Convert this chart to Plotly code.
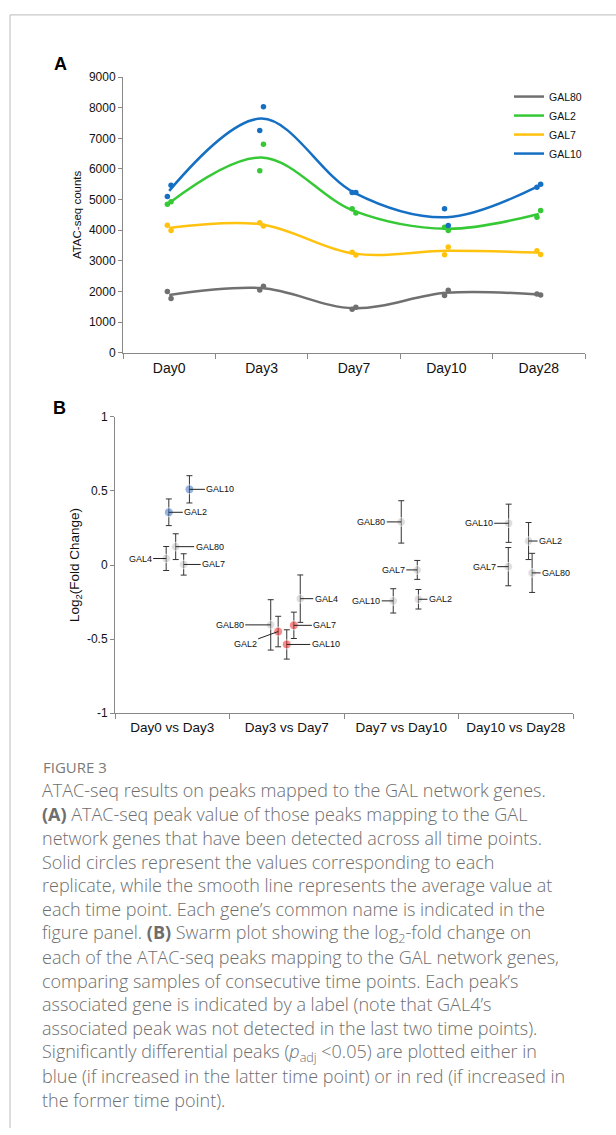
import plotly.graph_objects as go

W, H = 616, 1135

# ---------------- Panel A data ----------------
days = ["Day0", "Day3", "Day7", "Day10", "Day28"]
genes_a = ["GAL80", "GAL2", "GAL7", "GAL10"]
colors_a = {"GAL80": "#707070", "GAL2": "#36c936", "GAL7": "#ffc20e", "GAL10": "#1570c4"}

gal80_rep1 = [2000, 2050, 1420, 1870, 1920]
gal80_rep2 = [1770, 2170, 1480, 2040, 1880]
gal2_rep1 = [4850, 5940, 4700, 4100, 4420]
gal2_rep2 = [4930, 6810, 4560, 3990, 4640]
gal7_rep1 = [4160, 4240, 3280, 3200, 3330]
gal7_rep2 = [3990, 4140, 3190, 3450, 3210]
gal10_rep1 = [5100, 7260, 5230, 4700, 5400]
gal10_rep2 = [5470, 8030, 5230, 4150, 5500]

reps_a = {
    "GAL80": (gal80_rep1, gal80_rep2),
    "GAL2": (gal2_rep1, gal2_rep2),
    "GAL7": (gal7_rep1, gal7_rep2),
    "GAL10": (gal10_rep1, gal10_rep2),
}

# ---------------- Panel B data ----------------
comparisons = ["Day0 vs Day3", "Day3 vs Day7", "Day7 vs Day10", "Day10 vs Day28"]
b_comp = [0, 0, 0, 0, 0,
          1, 1, 1, 1, 1,
          2, 2, 2, 2,
          3, 3, 3, 3]
b_gene = ["GAL10", "GAL2", "GAL80", "GAL4", "GAL7",
          "GAL80", "GAL2", "GAL10", "GAL7", "GAL4",
          "GAL80", "GAL7", "GAL10", "GAL2",
          "GAL10", "GAL2", "GAL7", "GAL80"]
b_log2fc = [0.511, 0.356, 0.124, 0.044, 0.004,
            -0.404, -0.449, -0.536, -0.407, -0.227,
            0.291, -0.033, -0.242, -0.231,
            0.282, 0.162, -0.011, -0.053]
b_err = [0.092, 0.090, 0.087, 0.081, 0.072,
         0.170, 0.103, 0.099, 0.089, 0.160,
         0.143, 0.064, 0.082, 0.066,
         0.129, 0.125, 0.129, 0.132]
b_sig = ["up", "up", "ns", "ns", "ns",
         "ns", "down", "down", "down", "ns",
         "ns", "ns", "ns", "ns",
         "ns", "ns", "ns", "ns"]
# swarm layout (horizontal spread within a category) and label offsets in px
b_swarm = [0.15, -0.03, 0.03, -0.053, 0.10,
           -0.14, -0.075, 0.0, 0.062, 0.118,
           0.0, 0.14, -0.07, 0.15,
           -0.062, 0.112, -0.065, 0.143]
b_label_dx = [31, 27, 34, -26, 30,
              -41, -33, 39, 31, 26,
              -30, -24, -27, 22,
              -30, 22, -24, 24]
b_label_dy = [0, 0, 0, 0, 0,
              0, 12, 0, 0, 0,
              0, 0, 0, 0,
              0, 0, 0, 0]

sig_colors = {"up": "rgba(70,120,195,0.8)", "down": "rgba(240,50,50,0.8)", "ns": "rgba(190,190,190,0.7)"}

caption_lines = [
    "ATAC-seq results on peaks mapped to the GAL network genes.",
    "<b>(A)</b> ATAC-seq peak value of those peaks mapping to the GAL",
    "network genes that have been detected across all time points.",
    "Solid circles represent the values corresponding to each",
    "replicate, while the smooth line represents the average value at",
    "each time point. Each gene\u2019s common name is indicated in the",
    "figure panel. <b>(B)</b> Swarm plot showing the log<sub>2</sub>-fold change on",
    "each of the ATAC-seq peaks mapping to the GAL network genes,",
    "comparing samples of consecutive time points. Each peak\u2019s",
    "associated gene is indicated by a label (note that GAL4\u2019s",
    "associated peak was not detected in the last two time points).",
    "Significantly differential peaks (<i>p</i><sub>adj</sub> &lt;0.05) are plotted either in",
    "blue (if increased in the latter time point) or in red (if increased in",
    "the former time point).",
]

fig = go.Figure()

# Panel A: smooth mean lines
x_idx = list(range(len(days)))
for g in genes_a:
    r1, r2 = reps_a[g]
    mean = [(a + b) / 2 for a, b in zip(r1, r2)]
    fig.add_trace(go.Scatter(
        x=x_idx, y=mean, mode="lines", name=g,
        line=dict(color=colors_a[g], width=2.5, shape="spline", smoothing=1.0),
        xaxis="x", yaxis="y", hoverinfo="skip"))
# Panel A: replicate points
for g in genes_a:
    r1, r2 = reps_a[g]
    fig.add_trace(go.Scatter(
        x=[i - 0.02 for i in x_idx] + [i + 0.02 for i in x_idx], y=list(r1) + list(r2),
        mode="markers", marker=dict(color=colors_a[g], size=5.5),
        showlegend=False, xaxis="x", yaxis="y"))

# Panel B: swarm points with error bars
bx = [c + s for c, s in zip(b_comp, b_swarm)]
fig.add_trace(go.Scatter(
    x=bx, y=b_log2fc, mode="markers",
    marker=dict(color=[sig_colors[s] for s in b_sig], size=[9 if s != "ns" else 8.5 for s in b_sig]),
    error_y=dict(type="data", array=b_err, color="#333333", thickness=1, width=3),
    showlegend=False, xaxis="x2", yaxis="y2"))

annotations = []
for xv, yv, g, dx, dy in zip(bx, b_log2fc, b_gene, b_label_dx, b_label_dy):
    annotations.append(dict(
        x=xv, y=yv, xref="x2", yref="y2", text=g, showarrow=True,
        ax=dx, ay=dy, axref="pixel", ayref="pixel", arrowhead=0, arrowwidth=1,
        arrowcolor="#222222", standoff=0, borderpad=1,
        font=dict(family="Arial, Liberation Sans", size=9, color="#111111")))

# Panel letters
annotations.append(dict(x=60 / W, y=1 - 58 / H, xref="paper", yref="paper", text="<b>A</b>",
                        xanchor="center", yanchor="middle",
                        showarrow=False, font=dict(family="Arial, Liberation Sans", size=18, color="#000")))
annotations.append(dict(x=59 / W, y=1 - 406 / H, xref="paper", yref="paper", text="<b>B</b>",
                        xanchor="center", yanchor="middle",
                        showarrow=False, font=dict(family="Arial, Liberation Sans", size=18, color="#000")))

# Caption
annotations.append(dict(x=41 / W, y=1 - 769 / H, xref="paper", yref="paper", xanchor="left", yanchor="middle",
                        text="FIGURE 3", showarrow=False,
                        font=dict(family="Open Sans", size=15, color="#7a7a7a")))
for i, line in enumerate(caption_lines):
    annotations.append(dict(x=41 / W, y=1 - (793 + 24.1 * i) / H, xref="paper", yref="paper",
                            xanchor="left", yanchor="middle", text=line, showarrow=False, borderpad=0,
                            font=dict(family="Open Sans", size=18, color="#6e6e6e", weight=300)))

fig.update_layout(
    width=W, height=H, margin=dict(l=0, r=0, t=0, b=0),
    paper_bgcolor="white", plot_bgcolor="white",
    showlegend=True,
    legend=dict(x=509 / W, y=1 - 76 / H, xanchor="left", yanchor="top",
                font=dict(family="Arial, Liberation Sans", size=10.5, color="#111"),
                bgcolor="rgba(0,0,0,0)", tracegroupgap=0, itemwidth=30),
    xaxis=dict(domain=[123 / W, 585 / W], range=[-0.5, 4.5], anchor="y",
               tickmode="array", tickvals=x_idx, ticktext=days, ticks="",
               ticklabelstandoff=3,
               minor=dict(tickmode="array", tickvals=[i - 0.5 for i in range(len(days) + 1)],
                          ticks="outside", ticklen=5, tickcolor="#888888"),
               showline=True, linecolor="#888888", linewidth=1, showgrid=False, zeroline=False,
               tickfont=dict(family="Arial, Liberation Sans", size=14, color="#111")),
    yaxis=dict(domain=[1 - 350 / H, 1 - 71 / H], range=[0, 9000], anchor="x",
               tickmode="linear", tick0=0, dtick=1000, ticks="outside", ticklen=4, tickcolor="#888888",
               showline=True, linecolor="#888888", linewidth=1, showgrid=False, zeroline=False,
               tickfont=dict(family="Arial, Liberation Sans", size=12, color="#111"),
               title=dict(text="ATAC-seq counts", standoff=4,
                          font=dict(family="Arial, Liberation Sans", size=11.5, color="#111"))),
    xaxis2=dict(domain=[115 / W, 573 / W], range=[-0.5, 3.5], anchor="y2",
                tickmode="array", tickvals=list(range(len(comparisons))), ticktext=comparisons, ticks="",
                ticklabelstandoff=2,
                minor=dict(tickmode="array", tickvals=[i - 0.5 for i in range(len(comparisons) + 1)],
                           ticks="outside", ticklen=5, tickcolor="#888888"),
                showline=True, linecolor="#888888", linewidth=1, showgrid=False, zeroline=False,
                tickfont=dict(family="Arial, Liberation Sans", size=13.5, color="#111")),
    yaxis2=dict(domain=[1 - 715 / H, 1 - 415 / H], range=[-1, 1], anchor="x2",
                tickmode="array", tickvals=[-1, -0.5, 0, 0.5, 1], ticktext=["-1", "-0.5", "0", "0.5", "1"],
                ticks="outside", ticklen=4, tickcolor="#888888",
                showline=True, linecolor="#888888", linewidth=1, showgrid=False, zeroline=False,
                tickfont=dict(family="Arial, Liberation Sans", size=12, color="#111"),
                title=dict(text="Log<sub>2</sub>(Fold Change)", standoff=4,
                           font=dict(family="Arial, Liberation Sans", size=13.5, color="#111"))),
    annotations=annotations,
    shapes=[
        dict(type="line", xref="paper", yref="paper", x0=10 / W, x1=10 / W, y0=0, y1=1 - 8 / H,
             line=dict(color="#bbbbbb", width=1)),
        dict(type="line", xref="paper", yref="paper", x0=10 / W, x1=1, y0=1 - 8 / H, y1=1 - 8 / H,
             line=dict(color="#bbbbbb", width=1)),
    ],
)

fig.write_html("out.html", config={"displayModeBar": False},
               post_script="document.body.style.margin='0px';document.body.style.overflow='hidden';")
